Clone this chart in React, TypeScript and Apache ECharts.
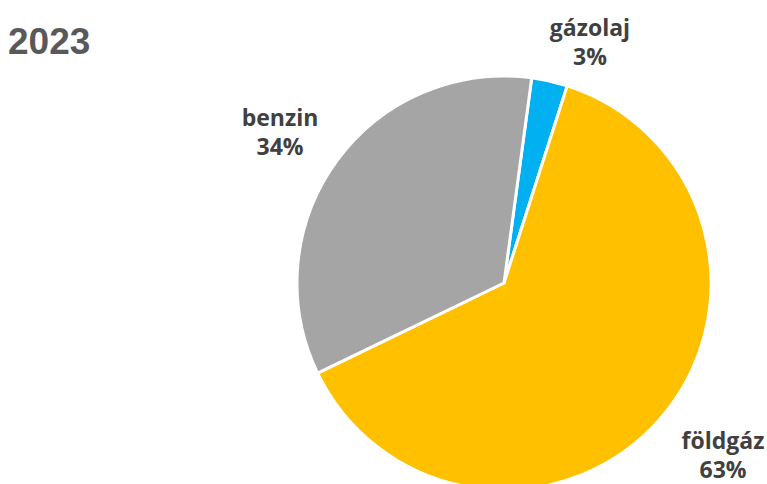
import React, { useEffect, useRef } from "react";
import * as echarts from "echarts";

const categories = ["gázolaj", "földgáz", "benzin"];
const shares = [2.8, 62.9, 34.3];
const colors = ["#00B0F0", "#FFC000", "#A5A5A5"];
const title = "2023";

const labelPos: Record<string, [number, number]> = {
  "gázolaj": [590, 41],
  "földgáz": [723, 454],
  "benzin": [280, 131],
};

export default function App() {
  const ref = useRef<HTMLDivElement>(null);
  useEffect(() => {
    document.body.style.margin = "0";
    const chart = echarts.init(ref.current!, null, { renderer: "svg" });
    chart.setOption({
      animation: false,
      title: {
        text: title,
        left: 3,
        top: 18,
        textStyle: {
          fontFamily: "Liberation Sans, Arial, sans-serif",
          fontWeight: "bold",
          fontSize: 37,
          color: "#595959",
        },
      },
      series: [
        {
          type: "pie",
          center: [504, 283],
          radius: 207,
          startAngle: 82.3,
          clockwise: true,
          data: categories.map((c, i) => ({
            name: c,
            value: shares[i],
            itemStyle: { color: colors[i] },
          })),
          itemStyle: { borderColor: "#ffffff", borderWidth: 3 },
          label: {
            show: true,
            position: "outside",
            formatter: (p: any) => `${p.name}\n${Math.round(p.percent)}%`,
            fontFamily: "Open Sans, sans-serif",
            fontWeight: "bold",
            fontSize: 23,
            lineHeight: 29,
            color: "#404040",
            align: "center",
            overflow: "none",
            width: 200,
          },
          labelLine: { show: false },
          labelLayout: (params: any) => {
            const name = categories[params.dataIndex];
            const pos = labelPos[name];
            return { x: pos[0], y: pos[1], align: "center", verticalAlign: "middle" };
          },
          emphasis: { disabled: true },
        },
      ],
    });
    return () => chart.dispose();
  }, []);
  return <div ref={ref} style={{ width: 767, height: 484 }} />;
}
